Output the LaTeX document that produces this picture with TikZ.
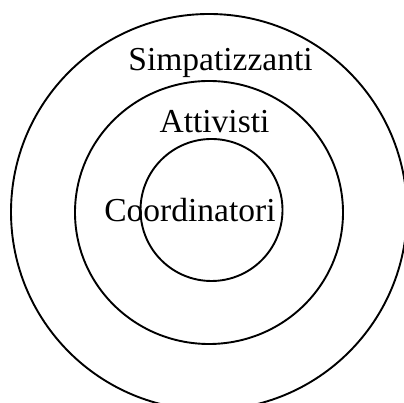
\documentclass[tikz,border=0pt]{standalone}
\usepackage{fontspec}
\setmainfont{Liberation Serif}
\begin{document}
\begin{tikzpicture}[x=1pt,y=1pt,
  ring/.style={draw=black,line width=1.9pt},
  lbl/.style={anchor=base,inner sep=0pt,font=\fontsize{33.5}{36}\selectfont}]
\useasboundingbox (0,0) rectangle (404,403);
\clip (0,0) rectangle (404,403);
\draw[ring] (209,191) circle (198);
\draw[ring] (209,190.5) ellipse [x radius=134, y radius=131.5];
\draw[ring] (211.5,193) circle (71);
\node[lbl] (simp) at (220.5,332) {Simpatizzanti};
\node[lbl] (att) at (214.5,270) {Attivisti};
\node[lbl] (coord) at (190,181) {Coordinatori};
\end{tikzpicture}
\end{document}
